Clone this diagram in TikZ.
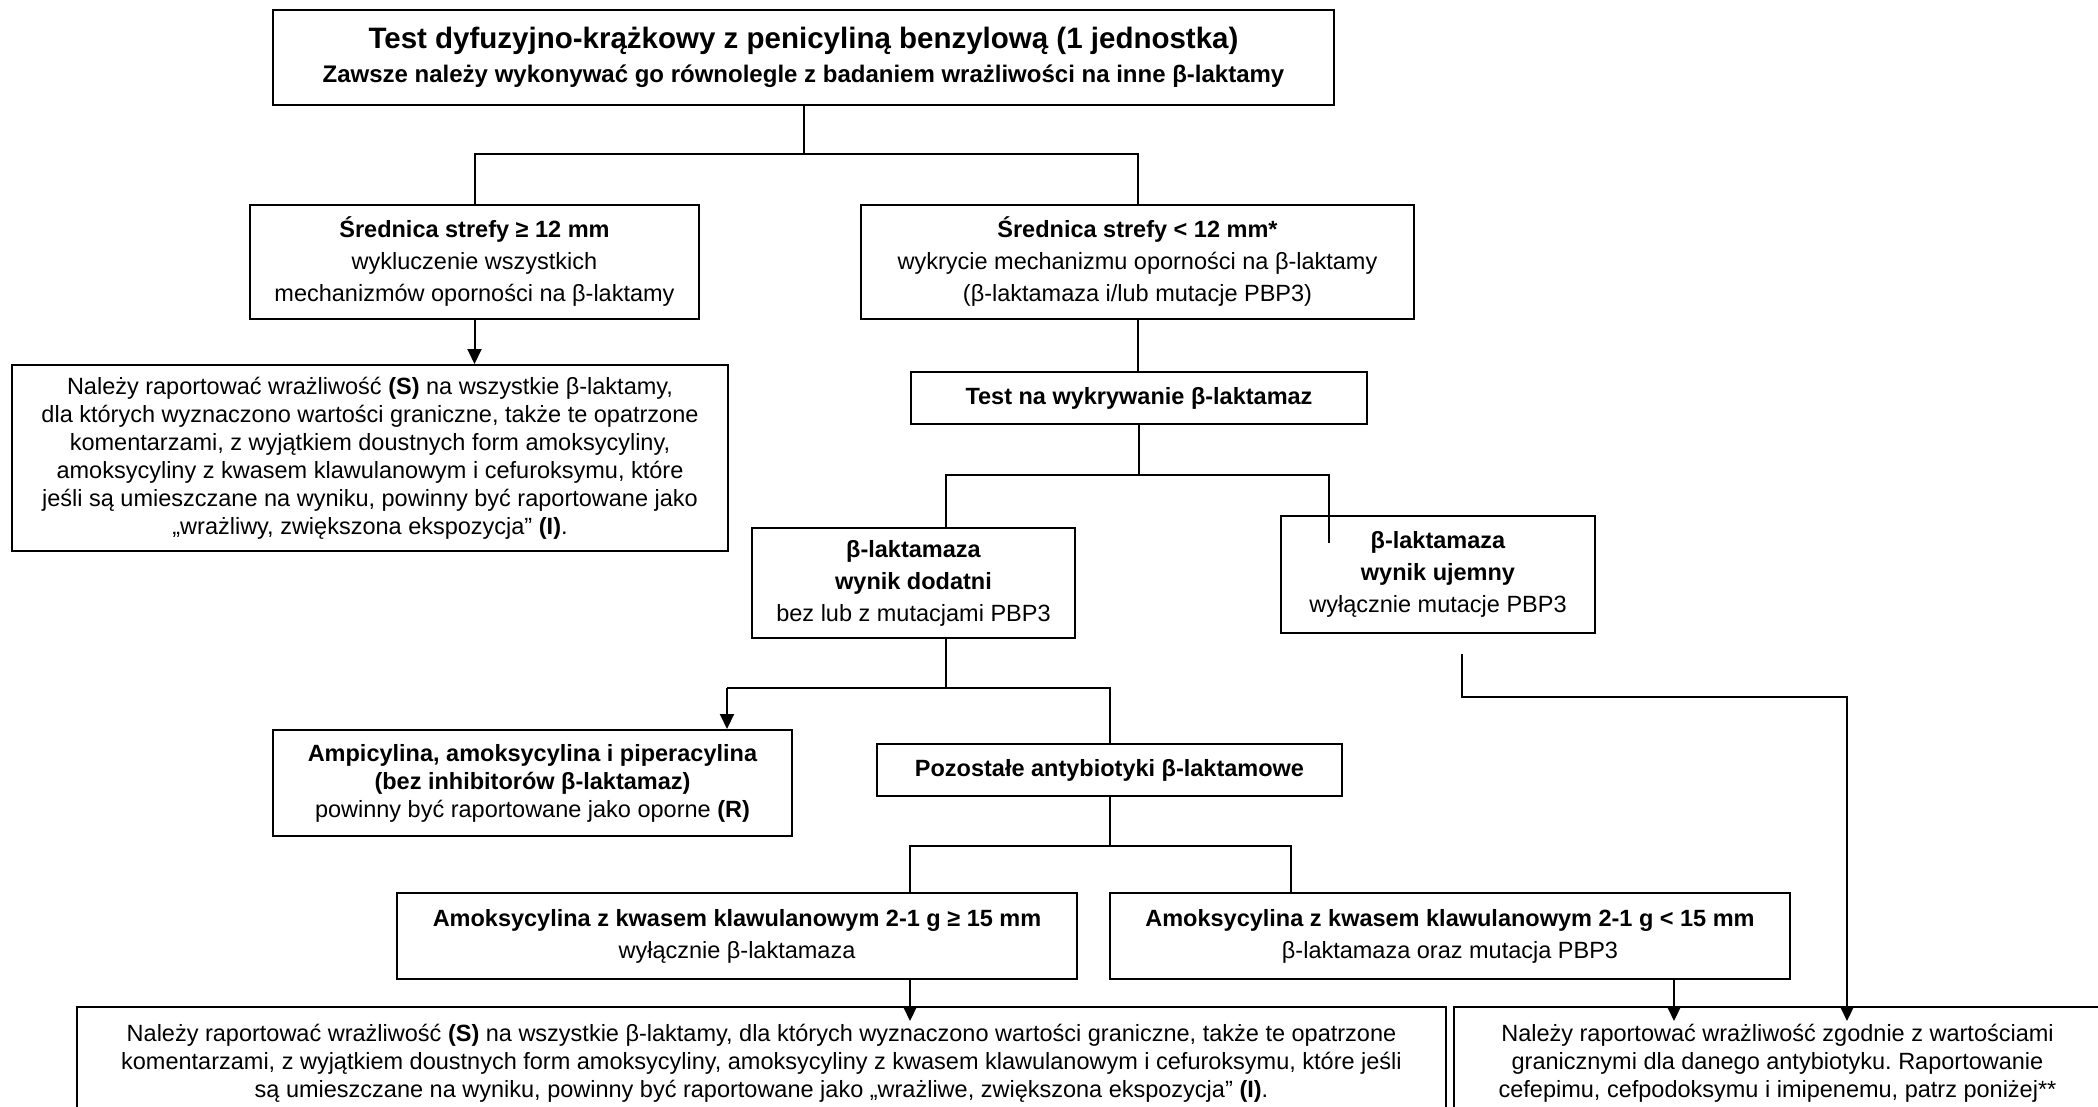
\documentclass[tikz,border=0pt]{standalone}
\usepackage{fontspec}
\setmainfont{Liberation Sans}
\usetikzlibrary{arrows.meta}
\frenchspacing
\begin{document}
\begin{tikzpicture}[x=1pt,y=-1pt,
  box/.style={draw, line width=2pt, anchor=north west, align=center, inner sep=3pt, font=\fontsize{23.5}{28}\selectfont},
  wide/.style={font=\fontsize{23.5}{32}\selectfont},
  conn/.style={line width=2pt},
  arr/.style={line width=2pt, -{Triangle[length=15pt,width=14pt]}}]
\useasboundingbox (0,0) rectangle (2098,1106);
\fill[white] (0,0) rectangle (2098,1106);

\node[box, minimum width=1061pt, minimum height=95pt] (T) at (272,9)
 {{\fontsize{29.5}{36}\selectfont\bfseries Test dyfuzyjno-krążkowy z penicyliną benzylową (1 jednostka)}\\[6pt]
  {\fontsize{24}{28}\selectfont\bfseries Zawsze należy wykonywać go równolegle z badaniem wrażliwości na inne β-laktamy}};

\node[box, wide, minimum width=449pt, minimum height=114pt] (A) at (249,204)
 {\textbf{Średnica strefy ≥ 12 mm}\\ wykluczenie wszystkich\\ mechanizmów oporności na β-laktamy};

\node[box, wide, minimum width=553pt, minimum height=114pt] (B) at (860,204)
 {\textbf{Średnica strefy < 12 mm*}\\ wykrycie mechanizmu oporności na β-laktamy\\ (β-laktamaza i/lub mutacje PBP3)};

\node[box, minimum width=716pt, minimum height=186pt] (C) at (11,364)
 {Należy raportować wrażliwość \textbf{(S)} na wszystkie β-laktamy,\\
  dla których wyznaczono wartości graniczne, także te opatrzone\\
  komentarzami, z wyjątkiem doustnych form amoksycyliny,\\
  amoksycyliny z kwasem klawulanowym i cefuroksymu, które\\
  jeśli są umieszczane na wyniku, powinny być raportowane jako\\
  „wrażliwy, zwiększona ekspozycja” \textbf{(I)}.};

\node[box, minimum width=456pt, minimum height=52pt] (D) at (910,371)
 {\textbf{Test na wykrywanie β-laktamaz}};

\node[box, wide, minimum width=323pt, minimum height=110pt] (E) at (751,527)
 {\textbf{β-laktamaza}\\ \textbf{wynik dodatni}\\ bez lub z mutacjami PBP3};

\node[box, wide, minimum width=314pt, minimum height=117pt] (F) at (1280,515)
 {\textbf{β-laktamaza}\\ \textbf{wynik ujemny}\\ wyłącznie mutacje PBP3};

\node[box, minimum width=519pt, minimum height=106pt] (G) at (272,729)
 {\textbf{Ampicylina, amoksycylina i piperacylina}\\ \textbf{(bez inhibitorów β-laktamaz)}\\ powinny być raportowane jako oporne \textbf{(R)}};

\node[box, minimum width=465pt, minimum height=52pt] (H) at (876,743)
 {\textbf{Pozostałe antybiotyki β-laktamowe}};

\node[box, wide, minimum width=680pt, minimum height=86pt] (I) at (396,892)
 {\textbf{Amoksycylina z kwasem klawulanowym 2-1 g ≥ 15 mm}\\ wyłącznie β-laktamaza};

\node[box, wide, minimum width=680pt, minimum height=86pt] (J) at (1109,892)
 {\textbf{Amoksycylina z kwasem klawulanowym 2-1 g < 15 mm}\\ β-laktamaza oraz mutacja PBP3};

\node[box, minimum width=1369pt, minimum height=112pt] (K) at (76,1006)
 {Należy raportować wrażliwość \textbf{(S)} na wszystkie β-laktamy, dla których wyznaczono wartości graniczne, także te opatrzone\\
  komentarzami, z wyjątkiem doustnych form amoksycyliny, amoksycyliny z kwasem klawulanowym i cefuroksymu, które jeśli\\
  są umieszczane na wyniku, powinny być raportowane jako „wrażliwe, zwiększona ekspozycja” \textbf{(I)}.};

\node[box, minimum width=647pt, minimum height=112pt] (L) at (1453,1006)
 {Należy raportować wrażliwość zgodnie z wartościami\\
  granicznymi dla danego antybiotyku. Raportowanie\\
  cefepimu, cefpodoksymu i imipenemu, patrz poniżej**};

% split levels
\coordinate (s1) at (0,154);
\coordinate (s2) at (0,475);
\coordinate (s3) at (0,688);
\coordinate (s4) at (0,846);
\coordinate (s5) at (0,697);

% attachment points
\coordinate (eT) at ([xshift=195pt]E.north west);
\coordinate (eB) at ([xshift=195pt]E.south west);
\coordinate (fT) at ([xshift=49pt,yshift=-28pt]F.north west);
\coordinate (fB) at ([xshift=182pt,yshift=-20pt]F.south west);
\coordinate (gT) at ([xshift=455pt]G.north west);
\coordinate (iT) at ([xshift=514pt]I.north west);
\coordinate (iB) at ([xshift=514pt]I.south west);
\coordinate (jT) at ([xshift=182pt]J.north west);
\coordinate (jB) at ([xshift=565pt]J.south west);
\coordinate (kT) at ([xshift=834pt,yshift=-15pt]K.north west);
\coordinate (lT1) at ([xshift=221pt,yshift=-15pt]L.north west);
\coordinate (lT2) at ([xshift=394pt,yshift=-15pt]L.north west);

% connectors
\draw[conn] (T.south) -- (T.south |- s1);
\draw[conn] (A.north) -- (A.north |- s1) -- (B.north |- s1) -- (B.north);
\draw[arr] (A.south) -- (A.south |- C.north);
\draw[conn] (B.south) -- (B.south |- D.north);
\draw[conn] (D.south) -- (D.south |- s2);
\draw[conn] (eT) -- (eT |- s2) -- (fT |- s2) -- (fT);
\draw[conn] (eB) -- (eB |- s3);
\draw[arr] (gT |- s3) -- (gT);
\draw[conn] (gT |- s3) -- (H.north |- s3) -- (H.north);
\draw[conn] (H.south) -- (H.south |- s4);
\draw[conn] (iT) -- (iT |- s4) -- (jT |- s4) -- (jT);
\draw[arr] (iB) -- (kT);
\draw[arr] (jB) -- (lT1);
\draw[arr] (fB) -- (fB |- s5) -- (lT2 |- s5) -- (lT2);
\end{tikzpicture}
\end{document}
